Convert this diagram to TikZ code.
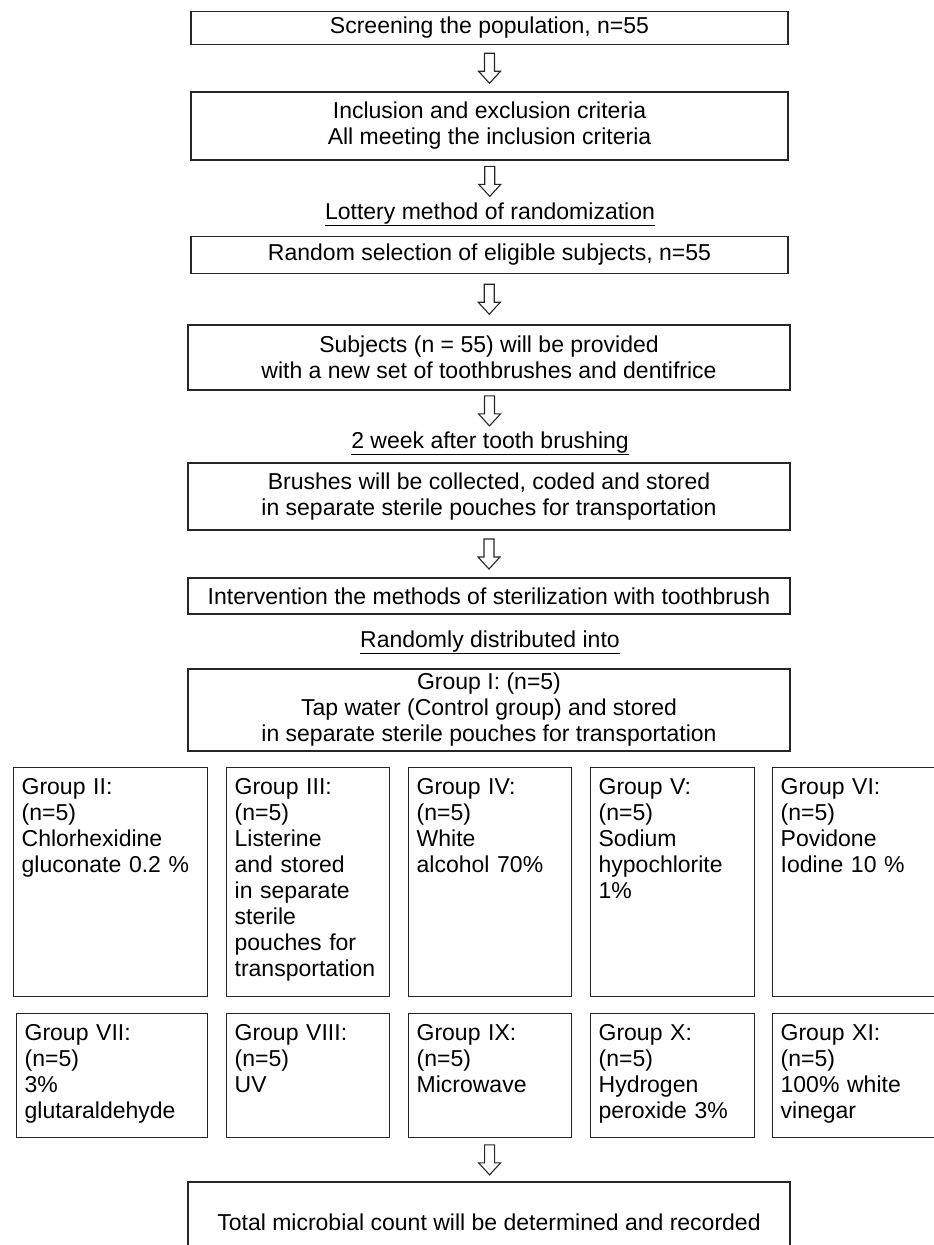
\documentclass[tikz,border=0pt]{standalone}
\usepackage{fontspec}
\setmainfont{Liberation Sans}
\usetikzlibrary{calc}

\tikzset{
  stage/.style={draw=black!85, line width=1.3pt, minimum width=602, inner sep=0pt, align=center},
  note/.style={inner sep=0pt, anchor=base},
  groupbox/.style={draw=black!85, line width=1.3pt, anchor=north west, align=left,
    inner xsep=8pt, inner ysep=8pt, text height=19pt},
  tall/.style={text depth=194pt},
  short/.style={text depth=89pt}
}

% hollow arrow half way between two nodes
\newcommand{\hollowarrow}[2]{%
  \coordinate (mid) at ($(#1.south)!0.5!(#2.north)$);
  \draw[black!85, line width=1.1pt, line join=miter]
    ($(mid)+(-5,-15)$) -- ($(mid)+(5,-15)$) -- ($(mid)+(5,3)$) -- ($(mid)+(11,3)$)
    -- ($(mid)+(0,15)$) -- ($(mid)+(-11,3)$) -- ($(mid)+(-5,3)$) -- cycle;
}

\begin{document}
\begin{tikzpicture}[x=1pt, y=-1pt, font=\fontsize{23}{26}\selectfont]
    \useasboundingbox (0,0) rectangle (934,1245);
    \clip (0,0) rectangle (934,1245);

    \node[stage, minimum width=597, minimum height=33] (screen) at (489.5,28) {Screening the population, n=55};
    \node[stage, minimum width=597, minimum height=68] (criteria) at (489.5,126) {Inclusion and exclusion criteria\\All meeting the inclusion criteria};
    \node[note] (lottery) at (490,219) {\underline{Lottery method of randomization}};
    \node[stage, minimum width=597, minimum height=37] (select) at (489.5,255) {Random selection of eligible subjects, n=55};
    \node[stage, minimum height=65] (subjects) at (489,357.5) {Subjects (n = 55) will be provided\\with a new set of toothbrushes and dentifrice};
    \node[note] (week) at (490,448) {\underline{2 week after tooth brushing}};
    \node[stage, minimum height=67] (brushes) at (489,496.5) {Brushes will be collected, coded and stored\\in separate sterile pouches for transportation};
    \node[stage, minimum height=36] (method) at (489,596) {Intervention the methods of sterilization with toothbrush};
    \node[note] (distrib) at (490,647) {\underline{Randomly distributed into}};
    \node[stage, minimum height=82] (control) at (489,710) {Group I: (n=5)\\Tap water (Control group) and stored\\in separate sterile pouches for transportation};

    \node[groupbox, tall, text width=178] (g2) at (13,767) {Group II:\\(n=5)\\Chlorhexidine\\gluconate 0.2 \%};
    \node[groupbox, tall, text width=147] (g3) at (226,767) {Group III:\\(n=5)\\Listerine\\and stored\\in separate\\sterile\\pouches for\\transportation};
    \node[groupbox, tall, text width=147] (g4) at (408,767) {Group IV:\\(n=5)\\White\\alcohol 70\%};
    \node[groupbox, tall, text width=148] (g5) at (590,767) {Group V:\\(n=5)\\Sodium\\hypochlorite\\1\%};
    \node[groupbox, tall, text width=164] (g6) at (772,767) {Group VI:\\(n=5)\\Povidone\\Iodine 10 \%};

    \node[groupbox, short, text width=175] (g7) at (16,1013) {Group VII:\\(n=5)\\3\%\\glutaraldehyde};
    \node[groupbox, short, text width=147] (g8) at (226,1013) {Group VIII:\\(n=5)\\UV};
    \node[groupbox, short, text width=147] (g9) at (408,1013) {Group IX:\\(n=5)\\Microwave};
    \node[groupbox, short, text width=148] (g10) at (590,1013) {Group X:\\(n=5)\\Hydrogen\\peroxide 3\%};
    \node[groupbox, short, text width=164] (g11) at (772,1013) {Group XI:\\(n=5)\\100\% white\\vinegar};

    \node[stage, minimum height=80] (total) at (489,1222) {Total microbial count will be determined and recorded};

    \hollowarrow{screen}{criteria}
    \hollowarrow{criteria}{lottery}
    \hollowarrow{select}{subjects}
    \hollowarrow{subjects}{week}
    \hollowarrow{brushes}{method}
    \hollowarrow{g9}{total}
\end{tikzpicture}
\end{document}
